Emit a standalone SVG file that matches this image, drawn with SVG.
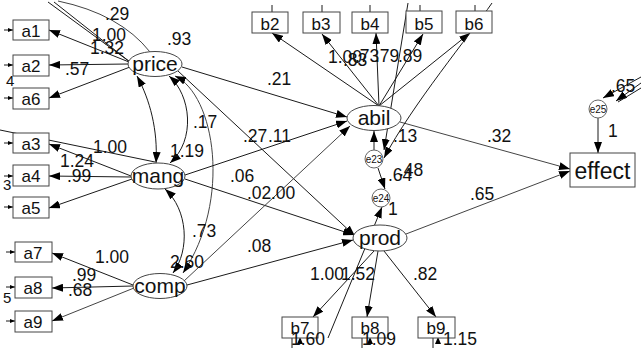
<svg xmlns="http://www.w3.org/2000/svg" width="641" height="352" viewBox="0 0 641 352">
<style>
.ln{stroke:#1a1a1a;stroke-width:1;fill:none}
.lg{stroke:#444;stroke-width:1;fill:none}
.bx{fill:#fff;stroke:#444;stroke-width:1}
.lat{fill:#fff;stroke:#444;stroke-width:1}
.err{fill:#fff;stroke:#666;stroke-width:1}
.t{font-family:"Liberation Sans",Arial,sans-serif;fill:#111}
.n{font-size:17.5px}
.bl{font-size:17px;text-anchor:middle}
.lt{font-size:21px;text-anchor:middle}
.et{font-size:10px;text-anchor:middle}
</style>
<defs>
<marker id="ah" viewBox="0 0 11 8" refX="11" refY="4" markerWidth="11" markerHeight="8" orient="auto-start-reverse" markerUnits="userSpaceOnUse"><path d="M0,0 L11,4 L0,8 z" fill="#000"/></marker>
<marker id="sm" viewBox="0 0 5 4" refX="5" refY="2" markerWidth="5" markerHeight="4" orient="auto" markerUnits="userSpaceOnUse"><path d="M0,0 L5,2 L0,4 z" fill="#000"/></marker>
</defs>

<g id="fragments" class="t" font-size="15">
<text x="6" y="86">4</text>
<text x="3" y="190">3</text>
<text x="3" y="303">5</text>
</g>

<g id="connectors">
<path class="ln" d="M48,2 L130,62"/>
<path class="ln" d="M54,2 L130,62"/>
<path class="lg" d="M58,1 Q120,14 150,52"/>
<path class="ln" d="M0,130 L155,162"/>
<path class="ln" d="M4,30 L13,30" marker-end="url(#sm)"/>
<path class="ln" d="M4,65 L13,65" marker-end="url(#sm)"/>
<path class="ln" d="M4,98 L13,98" marker-end="url(#sm)"/>
<path class="ln" d="M4,143 L13,143" marker-end="url(#sm)"/>
<path class="ln" d="M4,176 L13,176" marker-end="url(#sm)"/>
<path class="ln" d="M4,207 L13,207" marker-end="url(#sm)"/>
<path class="ln" d="M6,252 L15,252" marker-end="url(#sm)"/>
<path class="ln" d="M6,287 L15,287" marker-end="url(#sm)"/>
<path class="ln" d="M6,321 L15,321" marker-end="url(#sm)"/>
<path class="ln" d="M129,62 L49,30" marker-end="url(#ah)"/>
<path class="ln" d="M128,64 L49,65" marker-end="url(#ah)"/>
<path class="ln" d="M130,67 L49,98" marker-end="url(#ah)"/>
<path class="ln" d="M131,176 L49,144" marker-end="url(#ah)"/>
<path class="ln" d="M131,177 L49,176" marker-end="url(#ah)"/>
<path class="ln" d="M132,179 L49,208" marker-end="url(#ah)"/>
<path class="ln" d="M133,285 L52,253" marker-end="url(#ah)"/>
<path class="ln" d="M133,286 L52,288" marker-end="url(#ah)"/>
<path class="lg" d="M134,288 L52,321" marker-end="url(#ah)"/>
<path class="ln" d="M137,76 C150,100 158,130 156,163" marker-start="url(#ah)" marker-end="url(#ah)"/>
<path class="ln" d="M169,76 C191,95 196,140 170,163" marker-start="url(#ah)" marker-end="url(#ah)"/>
<path class="lg" d="M175,76 C215,95 232,200 183,273" marker-start="url(#ah)" marker-end="url(#ah)"/>
<path class="ln" d="M165,189 C188,210 190,250 173,273" marker-start="url(#ah)" marker-end="url(#ah)"/>
<path class="ln" d="M182,67 L347,117" marker-end="url(#ah)"/>
<path class="ln" d="M178,71 L355,236" marker-end="url(#ah)"/>
<path class="ln" d="M185,175 L347,121" marker-end="url(#ah)"/>
<path class="ln" d="M185,179 L354,235" marker-end="url(#ah)"/>
<path class="lg" d="M184,281 L350,126" marker-end="url(#ah)"/>
<path class="ln" d="M187,285 L353,240" marker-end="url(#ah)"/>
<path class="lg" d="M400,122 L570,169" marker-end="url(#ah)"/>
<path class="lg" d="M406,234 L570,171" marker-end="url(#ah)"/>
<path class="ln" d="M379,106 L272,33" marker-end="url(#ah)"/>
<path class="ln" d="M379,106 L322,34" marker-end="url(#ah)"/>
<path class="ln" d="M379,106 L376,33" marker-end="url(#ah)"/>
<path class="ln" d="M379,106 L423,34" marker-end="url(#ah)"/>
<path class="ln" d="M379,106 L470,33" marker-end="url(#ah)"/>
<path class="ln" d="M272,5 L272,12"/>
<path class="ln" d="M322,5 L322,12"/>
<path class="ln" d="M370,5 L370,12"/>
<path class="ln" d="M420,5 L420,11"/>
<path class="ln" d="M475,5 L475,11"/>
<path class="ln" d="M408,3 L384,150" marker-end="url(#ah)"/>
<path class="ln" d="M492,3 C470,35 412,105 384,158" marker-end="url(#ah)"/>
<path class="ln" d="M374,150 L374,131" marker-end="url(#ah)"/>
<path class="ln" d="M378,168 L385,189" marker-end="url(#ah)"/>
<path class="ln" d="M328,338 L382,207" marker-end="url(#ah)"/>
<path class="ln" d="M374,251 L313,317" marker-end="url(#ah)"/>
<path class="ln" d="M378,251 L367,317" marker-end="url(#ah)"/>
<path class="ln" d="M384,251 L436,317" marker-end="url(#ah)"/>
<path class="ln" d="M292,321 L292,348"/>
<path class="ln" d="M362,321 L362,348"/>
<path class="ln" d="M433,321 L433,348"/>
<path d="M297,344 L300,337 L303,344 z" fill="#000"/>
<path d="M367,344 L370,337 L373,344 z" fill="#000"/>
<path d="M435,344 L438,337 L441,344 z" fill="#000"/>
<path class="ln" d="M598,118 L598,153" marker-end="url(#ah)"/>
<path class="ln" d="M641,77 L603,98" marker-end="url(#ah)"/>
<path class="ln" d="M641,83 L616,101" marker-end="url(#ah)"/>
<path class="ln" d="M641,88 L618,102"/>
</g>

<g id="a1"><rect class="bx" x="13" y="20" width="36" height="20"/><text class="t bl" x="31" y="37">a1</text></g>
<g id="a2"><rect class="bx" x="13" y="55" width="36" height="21"/><text class="t bl" x="31" y="72">a2</text></g>
<g id="a6"><rect class="bx" x="13" y="88" width="36" height="21"/><text class="t bl" x="31" y="105">a6</text></g>
<g id="a3"><rect class="bx" x="13" y="133" width="36" height="20"/><text class="t bl" x="31" y="150">a3</text></g>
<g id="a4"><rect class="bx" x="13" y="165" width="36" height="21"/><text class="t bl" x="31" y="182">a4</text></g>
<g id="a5"><rect class="bx" x="13" y="197" width="36" height="21"/><text class="t bl" x="31" y="214">a5</text></g>
<g id="a7"><rect class="bx" x="15" y="242" width="37" height="20"/><text class="t bl" x="33" y="259">a7</text></g>
<g id="a8"><rect class="bx" x="15" y="277" width="37" height="21"/><text class="t bl" x="33" y="294">a8</text></g>
<g id="a9"><rect class="bx" x="15" y="311" width="37" height="21"/><text class="t bl" x="33" y="328">a9</text></g>

<g id="b2"><rect class="bx" x="252" y="12" width="36" height="21"/><text class="t bl" x="270" y="30">b2</text></g>
<g id="b3"><rect class="bx" x="303" y="12" width="37" height="21"/><text class="t bl" x="321" y="30">b3</text></g>
<g id="b4"><rect class="bx" x="352" y="12" width="36" height="21"/><text class="t bl" x="370" y="30">b4</text></g>
<g id="b5"><rect class="bx" x="406" y="11" width="36" height="22"/><text class="t bl" x="424" y="30">b5</text></g>
<g id="b6"><rect class="bx" x="456" y="11" width="36" height="22"/><text class="t bl" x="474" y="30">b6</text></g>
<g id="b7"><rect class="bx" x="282" y="317" width="36" height="21"/><text class="t bl" x="300" y="334">b7</text></g>
<g id="b8"><rect class="bx" x="352" y="317" width="36" height="21"/><text class="t bl" x="370" y="334">b8</text></g>
<g id="b9"><rect class="bx" x="418" y="317" width="37" height="21"/><text class="t bl" x="436" y="334">b9</text></g>

<g id="price"><ellipse class="lat" cx="155" cy="64" rx="27" ry="12.5"/><text class="t lt" x="155" y="71">price</text></g>
<g id="mang"><ellipse class="lat" cx="158" cy="176" rx="27" ry="13"/><text class="t lt" x="158" y="183">mang</text></g>
<g id="comp"><ellipse class="lat" cx="160" cy="286" rx="27" ry="12.5"/><text class="t lt" x="160" y="293">comp</text></g>
<g id="abil"><ellipse class="lat" cx="374" cy="118" rx="27" ry="12.5"/><text class="t lt" x="374" y="125">abil</text></g>
<g id="prod"><ellipse class="lat" cx="380" cy="238" rx="27" ry="13"/><text class="t lt" x="380" y="245">prod</text></g>

<g id="e23"><circle class="err" cx="374" cy="159" r="9"/><text class="t et" x="374" y="163">e23</text></g>
<g id="e24"><circle class="err" cx="381" cy="198" r="9"/><text class="t et" x="381" y="202">e24</text></g>
<g id="e25"><circle class="err" cx="598" cy="109" r="9"/><text class="t et" x="598" y="113">e25</text></g>

<g id="effect"><rect class="bx" x="570" y="153" width="65" height="34"/><text class="t" x="602.5" y="179" font-size="23" text-anchor="middle">effect</text></g>

<g id="labels" class="t n">
<text x="105" y="20">.29</text>
<text x="92" y="41">1.00</text>
<text x="167" y="45">.93</text>
<text x="90" y="54">1.32</text>
<text x="65" y="75">.57</text>
<text x="93" y="153">1.00</text>
<text x="60" y="167">1.24</text>
<text x="67" y="182">.99</text>
<text x="193" y="128">.17</text>
<text x="170" y="157">1.19</text>
<text x="267" y="85">.21</text>
<text x="243" y="142">.27</text>
<text x="268" y="142">.11</text>
<text x="230" y="182">.06</text>
<text x="247" y="199">.02</text>
<text x="271" y="199">.00</text>
<text x="192" y="237">.73</text>
<text x="170" y="268">2.60</text>
<text x="247" y="252">.08</text>
<text x="95" y="263">1.00</text>
<text x="72" y="281">.99</text>
<text x="68" y="296">.68</text>
<text x="328" y="63">1.00</text>
<text x="343" y="66">.83</text>
<text x="355" y="62">.73</text>
<text x="375" y="62">.79</text>
<text x="398" y="62">.89</text>
<text x="393" y="142">.13</text>
<text x="388" y="181">.64</text>
<text x="399" y="176">.48</text>
<text x="388" y="215">1</text>
<text x="487" y="142">.32</text>
<text x="470" y="200">.65</text>
<text x="611" y="92">.65</text>
<text x="608" y="137">1</text>
<text x="310" y="280">1.00</text>
<text x="341" y="280">1.52</text>
<text x="413" y="280">.82</text>
<text x="291" y="345">1.60</text>
<text x="362" y="345">1.09</text>
<text x="443" y="345">1.15</text>
</g>
</svg>
